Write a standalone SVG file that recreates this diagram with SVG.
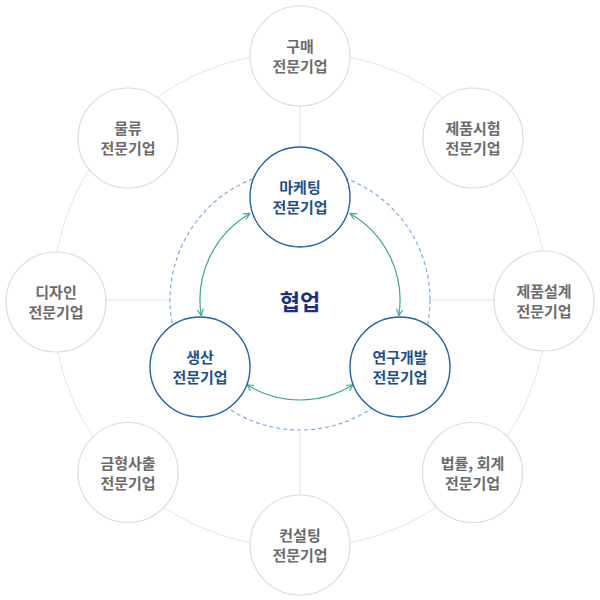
<svg xmlns="http://www.w3.org/2000/svg" width="600" height="600" viewBox="0 0 600 600">
<style>
.ring{fill:none;stroke:#e6e6e6;stroke-width:1}
.spoke{stroke:#e2e2e2;stroke-width:1}
.dash{fill:none;stroke:#7eaee0;stroke-width:1.2;stroke-dasharray:4 3}
.outer circle{fill:#fff;stroke:#dcdcdc;stroke-width:1.2}
.outer text{font-family:"Noto Sans CJK KR","Noto Sans",sans-serif;font-size:15px;font-weight:700;fill:#6b6b6b;text-anchor:middle;dominant-baseline:central}
.inner circle{fill:#fff;stroke:#1f63ad;stroke-width:1.4}
.inner text{font-family:"Noto Sans CJK KR","Noto Sans",sans-serif;font-size:15px;font-weight:700;fill:#1d4f8c;text-anchor:middle;dominant-baseline:central}
.flow{fill:none;stroke:#37a98a;stroke-width:1.2}
.title{font-family:"Noto Sans CJK KR","Noto Sans",sans-serif;font-size:22px;font-weight:700;fill:#1b2e86;text-anchor:middle;dominant-baseline:central}
</style>
<defs>
<marker id="chev" viewBox="0 0 10 10" refX="9" refY="5" markerWidth="8" markerHeight="8" markerUnits="userSpaceOnUse" orient="auto-start-reverse">
<path d="M1,1 L9,5 L1,9" fill="none" stroke="#37a98a" stroke-width="1.4"/>
</marker>
</defs>
<g id="background">
<circle class="ring" cx="300" cy="300" r="248"/>
<line class="spoke" x1="300" y1="106" x2="300" y2="148"/>
<line class="spoke" x1="106" y1="300" x2="170" y2="300"/>
<line class="spoke" x1="430" y1="300" x2="494" y2="300"/>
<line class="spoke" x1="300" y1="430" x2="300" y2="495"/>
<circle class="dash" cx="300" cy="300" r="130"/>
</g>
<g id="connectors">
<path class="flow" d="M250,213.4 A100,100 0 0 0 201.2,315.6" marker-start="url(#chev)" marker-end="url(#chev)"/>
<path class="flow" d="M247,384.8 A100,100 0 0 0 353,384.8" marker-start="url(#chev)" marker-end="url(#chev)"/>
<path class="flow" d="M398.8,315.6 A100,100 0 0 0 350,213.4" marker-start="url(#chev)" marker-end="url(#chev)"/>
</g>
<g id="n-purchase" class="outer"><circle cx="300" cy="56" r="50"/><text x="300" y="45.5">구매</text><text x="300" y="65.5">전문기업</text></g>
<g id="n-test" class="outer"><circle cx="473" cy="138" r="50"/><text x="473" y="127.5">제품시험</text><text x="473" y="147.5">전문기업</text></g>
<g id="n-design" class="outer"><circle cx="544" cy="301" r="50"/><text x="544" y="290.5">제품설계</text><text x="544" y="310.5">전문기업</text></g>
<g id="n-law" class="outer"><circle cx="472.5" cy="472.5" r="50"/><text x="472.5" y="462">법률, 회계</text><text x="472.5" y="482">전문기업</text></g>
<g id="n-consult" class="outer"><circle cx="300" cy="545" r="50"/><text x="300" y="534.5">컨설팅</text><text x="300" y="554.5">전문기업</text></g>
<g id="n-mold" class="outer"><circle cx="128" cy="472.5" r="50"/><text x="128" y="462">금형사출</text><text x="128" y="482">전문기업</text></g>
<g id="n-designer" class="outer"><circle cx="56" cy="302" r="50"/><text x="56" y="291.5">디자인</text><text x="56" y="311.5">전문기업</text></g>
<g id="n-logistics" class="outer"><circle cx="128" cy="138" r="50"/><text x="128" y="127.5">물류</text><text x="128" y="147.5">전문기업</text></g>
<g id="n-marketing" class="inner"><circle cx="300" cy="197" r="50"/><text x="300" y="186.5">마케팅</text><text x="300" y="206">전문기업</text></g>
<g id="n-production" class="inner"><circle cx="200" cy="367" r="50"/><text x="200" y="356.5">생산</text><text x="200" y="376">전문기업</text></g>
<g id="n-rnd" class="inner"><circle cx="400" cy="367" r="50"/><text x="400" y="356.5">연구개발</text><text x="400" y="376">전문기업</text></g>
<text class="title" x="300" y="300">협업</text>
</svg>
